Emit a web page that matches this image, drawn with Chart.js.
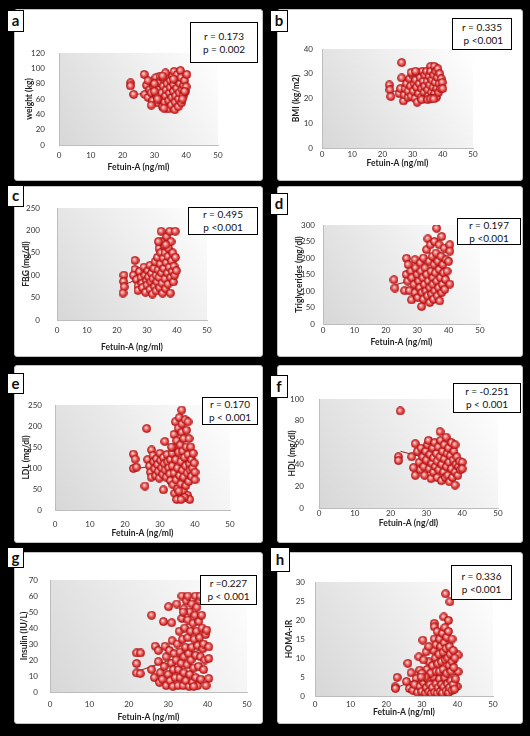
<!DOCTYPE html>
<html>
<head>
<meta charset="utf-8">
<script src="https://cdn.jsdelivr.net/npm/chart.js@4.4.0/dist/chart.umd.min.js"></script>
<style>
html, body { margin: 0; padding: 0; background: #000; }
body { width: 530px; height: 736px; position: relative; overflow: hidden; font-family: Lato, "Open Sans", sans-serif; }
.frame { position: absolute; background: #fff; border: 1px solid #c4c4c4; border-radius: 3px; box-sizing: border-box; }
canvas { position: absolute; }
.letter { position: absolute; background: #fff; border: 1px solid #000; box-sizing: border-box; font-weight: bold; font-size: 15px; text-align: center; color: #111; }
.stat { position: absolute; background: #fff; border: 1.5px solid #000; box-sizing: border-box; font-size: 10px; display: flex; flex-direction: column; justify-content: center; align-items: center; line-height: 13px; color: #111; white-space: pre; }
</style>
</head>
<body>
<script>
// panel labels, axis titles, axis ranges and stats
const panelIds = ['a', 'b', 'c', 'd', 'e', 'f', 'g', 'h'];
const yTitles = ['weight (kg)', 'BMI (kg/m2)', 'FBG (mg/dl)', 'Triglycerides (mg/dl)', 'LDL (mg/dl)', 'HDL (mg/dl)', 'Insulin (IU/L)', 'HOMA-IR'];
const xTitles = ['Fetuin-A (ng/ml)', 'Fetuin-A (ng/ml)', 'Fetuin-A (ng/ml)', 'Fetuin-A (ng/ml)', 'Fetuin-A (ng/ml)', 'Fetuin-A (ng/dl)', 'Fetuin-A (ng/ml)', 'Fetuin-A (ng/ml)'];
const yMax = [120, 40, 250, 300, 250, 100, 70, 30];
const yStep = [20, 5, 50, 50, 50, 10, 10, 5];
const xMax = 50, xStep = 10;
const rTexts = ['r = 0.173', 'r = 0.335', 'r = 0.495', 'r = 0.197', 'r = 0.170', 'r = -0.251', 'r =0.227', 'r = 0.336'];
const pTexts = ['p = 0.002', ' p <0.001', 'p <0.001', 'p <0.001', 'p < 0.001', 'p < 0.001', 'p < 0.001', 'p <0.001'];

// [fetuin-A, value]
const weightPts = [[22.5,81],[22.5,77],[23.5,66],[26.8,92],[27.5,78],[27,66],[28,62],[28.5,72],[28,84],[29,68],[29.5,58],[29.8,77],[30.5,88],[30.8,64],[31,55],[31.2,72],[31.5,82],[31.8,90],[32,60],[32.3,68],[32.5,50],[32.8,77],[33,86],[33.2,56],[33.5,64],[33.7,72],[34,90],[34,80],[34.3,47],[34.5,58],[34.7,68],[35,75],[35,84],[35.3,52],[35.5,62],[35.7,90],[36,70],[36,79],[36.2,96],[36.4,46],[36.5,56],[36.7,64],[37,85],[37,74],[37.2,92],[37.5,50],[37.6,60],[37.8,68],[38,80],[38.2,97],[38.4,88],[38.5,55],[38.7,72],[39,64],[39.2,78],[39.5,84],[39.8,70],[40.2,92],[40,76],[33.5,94],[30,80],[29,52],[32.6,90],[30,70],[31,60],[33,48],[36,86],[38.8,60],[39.5,70]];
const bmiPts = [[22.3,25.5],[22.5,23.5],[22.8,20.8],[26.4,34.5],[26.4,28.3],[25.5,22],[26,24],[27,19],[27.2,21.5],[27.5,24],[28,26],[28.5,20.5],[28.5,23],[29,28],[29.3,25],[29.5,21],[30,29.5],[30.2,23],[30.5,26],[30.8,20],[31,27.5],[31.3,24.5],[31.5,18.5],[31.8,30],[32,22],[32.2,26],[32.5,28.5],[32.8,20.5],[33,24],[33.2,31],[33.5,27],[33.8,22.5],[34,29.5],[34,25],[34.3,20],[34.6,31],[34.8,27],[35,23.5],[35.2,21],[35.5,29],[35.7,25.5],[36,33],[36,31],[36.2,22.5],[36.4,27.5],[36.6,20.5],[36.8,24.5],[37,29.5],[37.2,33],[37.3,22],[37.5,26.5],[37.7,31],[37.9,20.5],[38,24],[38.2,28.5],[38.4,32],[38.6,22.5],[38.8,26],[39,30],[39.3,24],[39.5,28],[39.8,26.5],[40,24],[29.5,30.5],[31,31],[33,19.5],[35,19.5],[36,19.8],[37,19.8]];
const fbgPts = [[22.3,100],[22.2,86],[22.4,74],[22,60],[26,133],[26,113],[25.5,100],[26.5,90],[27,76],[27,66],[27.5,108],[28,95],[28.3,82],[28.5,72],[29,118],[29.3,100],[29.5,62],[29.8,88],[30,78],[30.3,110],[30.5,96],[31,68],[31,122],[31.3,85],[31.5,104],[31.8,58],[32,92],[32.3,115],[32.5,75],[32.7,130],[33,100],[33,65],[33.3,85],[33.5,140],[33.7,112],[34,160],[34,95],[34.2,72],[34.4,125],[34.6,150],[34.7,198],[34.8,105],[35,82],[35,175],[35.2,60],[35.4,138],[35.6,115],[35.8,165],[36,92],[36,150],[36.2,70],[36.4,128],[36.6,186],[36.8,105],[37,142],[37,80],[37.2,160],[37.4,118],[37.6,198],[37.8,60],[37.9,95],[38,175],[38.2,132],[38.4,108],[38.6,150],[38.8,85],[39,120],[39.2,100],[39.4,198],[39.5,140],[39.8,110],[33.8,175],[36.3,168]];
const tgPts = [[22.6,134],[22.9,109],[26,101],[27.5,101],[26.6,199],[27.1,180],[29.3,195],[26.5,150],[27,130],[28,160],[28.3,140],[28.2,73],[29,120],[29.3,95],[29.5,170],[30,150],[30.2,80],[30.5,130],[30.8,110],[31,185],[31.2,160],[31.4,53],[31.5,95],[31.8,140],[32,75],[32,200],[32.3,120],[32.5,170],[32.8,100],[33,150],[33,225],[33.3,85],[33.4,258],[33.5,130],[33.8,190],[34,110],[34,65],[34.2,240],[34.4,160],[34.6,90],[34.8,205],[35,140],[35,120],[35.2,75],[35.4,180],[35.5,250],[35.6,100],[35.8,155],[36,215],[36.2,290],[36.2,130],[36.4,85],[36.6,190],[36.8,110],[37,165],[37,240],[37.2,70],[37.4,140],[37.6,205],[37.8,265],[37.8,95],[38,120],[38.2,180],[38.4,155],[38.6,230],[38.8,105],[39,135],[39.2,195],[39.5,160],[40.4,240],[40.4,221],[40.4,121],[40,190]];
const ldlPts = [[22.4,133],[22.9,121],[22.4,99],[23.3,102],[25.7,57],[26.2,194],[27.6,143],[31.4,163],[31,48],[36.2,238],[26.5,120],[27,105],[27.3,90],[27.5,78],[28,130],[28.2,115],[28.5,98],[28.8,82],[29,122],[29.3,108],[29.5,92],[29.8,76],[30,135],[30.2,118],[30.5,100],[30.8,85],[31,125],[31.2,110],[31.5,95],[31.8,78],[32,132],[32.2,115],[32.5,100],[32.8,86],[33,120],[33,70],[33.5,135],[33.5,105],[33.7,60],[34,180],[34,150],[34,88],[34.2,40],[34.4,210],[34.5,120],[34.6,72],[34.8,165],[35,100],[35,50],[35.2,195],[35.3,138],[35.5,220],[35.6,82],[35.7,30],[35.8,155],[36,115],[36,62],[36.2,185],[36.3,205],[36.4,95],[36.5,140],[36.6,45],[36.8,170],[36.8,78],[37,125],[37.2,215],[37.3,105],[37.4,58],[37.5,150],[37.6,190],[37.8,88],[37.9,35],[38,210],[38,132],[38.2,68],[38.3,170],[38.4,110],[38.5,25],[38.6,95],[38.8,150],[39,80],[39,120],[39.3,100],[39.5,135],[39.8,112],[40,90],[40,72],[33.3,150],[34.8,25],[37,30],[36,25],[35.4,45]];
const hdlPts = [[22.7,89],[22.2,47],[22.2,43.5],[25.9,47],[26.9,59],[26.4,37],[26.9,30],[27.5,52],[28,42],[28.3,35],[28.5,55],[29,47],[29.3,38],[29.5,30],[29.8,52],[30,44],[30.3,58],[30.6,62],[30.8,36],[31,49],[31.3,27],[31.5,41],[31.8,55],[32,33],[32,46],[32.3,60],[32.5,38],[32.8,50],[33,28],[33,43],[33.3,56],[33.5,35],[33.8,70],[33.8,47],[34,62],[34.2,25],[34.3,40],[34.5,52],[34.8,33],[35,58],[35,45],[35.3,28],[35.5,65],[35.6,38],[35.8,50],[36,30],[36.2,55],[36.3,42],[36.5,24],[36.7,48],[37,36],[37,60],[37.3,28],[37.5,44],[37.7,52],[38,21],[38,33],[38,58],[38.3,40],[38.5,47],[38.8,30],[39,38],[39.3,43],[39.5,35],[40,42],[40,36]];
const insulinPts = [[22,24.4],[23,24.4],[22,17.8],[22,11.9],[22.9,11.5],[25.8,48],[28.8,44],[30.1,53.3],[30.9,43.3],[26.7,28.6],[27.5,26],[29.2,28.6],[25.8,14],[26.5,9],[27.5,19],[27.8,6],[28,12],[28.5,8],[29,16],[29.5,4],[29.5,22],[30,11],[30.3,26],[30.5,7],[30.8,18],[31,32],[31.2,3.5],[31.3,14],[31.5,24],[31.8,9],[32,20],[32.2,55],[32.3,30],[32.5,4],[32.6,14],[32.8,38],[33,25],[33,9],[33.3,18],[33.5,60],[33.5,46],[33.6,33],[33.8,4],[34,52],[34,22],[34,12],[34.2,40],[34.4,28],[34.5,7],[34.6,57],[34.8,17],[35,45],[35,34],[35.2,24],[35.3,3.5],[35.5,50],[35.5,11],[35.7,38],[35.8,20],[36,28],[36,55],[36.2,6],[36.3,43],[36.5,15],[36.6,33],[36.8,48],[36.9,60],[37,23],[37,9],[37.2,38],[37.3,53],[37.5,29],[37.5,4],[37.7,16],[37.8,44],[38,57],[38.1,60],[38,34],[38.2,22],[38.3,8],[38.5,48],[38.6,40],[38.8,27],[39,14],[39,30],[39.3,20],[39.5,36],[39.8,38.7],[40.3,28.2],[40.3,20.9],[40.3,8.4],[39.6,4],[33.8,50],[35,60],[36.5,3.5]];
const homaPts = [[22.5,2.4],[22.6,2],[23.1,4.9],[25.7,3.8],[26.1,8.6],[27,6.1],[28.4,4.6],[29.4,6.8],[29.2,10.3],[30.3,14.7],[31.2,11.6],[33.5,19.1],[33.5,18.2],[36.7,26.9],[37.9,24.8],[36.2,20.8],[37.5,19.9],[40.2,10.8],[40.2,6.4],[39.9,2.5],[26.5,2],[27.5,1.5],[28,3],[28.8,1],[29.5,2.5],[30,1.2],[30.5,3.5],[31,0.8],[31.3,2.2],[31.8,4.2],[32,1.2],[32.3,3],[32.7,0.7],[33,2.2],[33.3,5],[33.6,1],[34,3.2],[34.3,0.8],[34.6,2.2],[35,4.5],[35.2,1.2],[35.5,3],[35.8,0.8],[36.2,2.4],[36.5,4.8],[36.8,1.3],[37.2,3.2],[37.5,0.9],[37.8,2.2],[38.2,4],[38.5,1.5],[38.8,3],[39.2,1.8],[39.5,4.5],[31.5,7],[32,9],[32.5,6],[33,8],[33.3,12],[33.5,15],[33.8,10],[34,6.5],[34,13.5],[34.3,17],[34.5,8.5],[34.8,11],[35,15],[35,6.5],[35.3,13],[35.5,9],[35.8,16.5],[36,11.5],[36,7],[36.3,14],[36.5,18],[36.6,9.5],[36.8,12.5],[37,6],[37,15.5],[37.3,10],[37.5,17],[37.7,8],[37.8,13],[38,11],[38.2,6.5],[38.5,9],[38.5,15],[38.8,12],[39,7.5],[39.3,10],[31,5],[30,6],[32,13],[30.5,9.5],[29.8,5]];

// linear trend end points
const weightTrend = [[22.5, 65], [40, 75]];
const bmiTrend = [[22.3, 22.5], [40, 27]];
const fbgTrend = [[22.3, 78], [40, 130]];
const tgTrend = [[22.6, 118], [40, 160]];
const ldlTrend = [[22.4, 98], [40, 118]];
const hdlTrend = [[22.8, 52], [40, 37]];
const insulinTrend = [[22.3, 13], [40, 28]];
const homaTrend = [[22.5, 2], [40, 9]];

const seriesPts = [weightPts, bmiPts, fbgPts, tgPts, ldlPts, hdlPts, insulinPts, homaPts];
const trends = [weightTrend, bmiTrend, fbgTrend, tgTrend, ldlTrend, hdlTrend, insulinTrend, homaTrend];

// page geometry: frame [l,t,r,b], plot [x0 px, x50 px, top px, zero px]
const layout = [
    { frame: [14, 9, 263, 181], plot: [59, 218, 53, 145], yPad: 14, xPad: 6, yTitlePad: 10.6, xTitlePad: 8.6, letter: [7, 10, 17, 22], stat: [190, 22, 68, 41] },
    { frame: [277, 9, 523, 181], plot: [322, 473, 49, 148], yPad: 9, xPad: 2, yTitlePad: 14.6, xTitlePad: 12.6, letter: [270, 10, 18, 22], stat: [452, 18, 60, 32] },
    { frame: [14, 186, 263, 357], plot: [57, 207, 208, 320], yPad: 17, xPad: 6, yTitlePad: 7.6, xTitlePad: 4.6, letter: [7, 185, 17, 22], stat: [188, 207, 70, 28] },
    { frame: [277, 186, 523, 357], plot: [323, 480, 225, 324], yPad: 8, xPad: 2, yTitlePad: 17.6, xTitlePad: 9.6, letter: [270, 193, 18, 22], stat: [457, 218, 64, 27] },
    { frame: [14, 365, 263, 543], plot: [55, 230, 405, 510], yPad: 13, xPad: 10, yTitlePad: 7.6, xTitlePad: 4.6, letter: [7, 373, 17, 21], stat: [202, 397, 56, 28] },
    { frame: [277, 365, 523, 543], plot: [319, 498, 399, 508], yPad: 15, xPad: 1, yTitlePad: 10.6, xTitlePad: 14.6, letter: [270, 375, 18, 23], stat: [453, 383, 68, 30] },
    { frame: [14, 552, 263, 724], plot: [50, 247, 580, 692], yPad: 12, xPad: 8, yTitlePad: 5.6, xTitlePad: 1.6, letter: [7, 547, 17, 21], stat: [200, 575, 57, 30] },
    { frame: [277, 552, 523, 724], plot: [315, 493, 582, 696], yPad: 10, xPad: 4, yTitlePad: 7.6, xTitlePad: 6.6, letter: [270, 547, 20, 25], stat: [451, 565, 61, 35] }
];

// glossy red marker
function makeDot() {
    const c = document.createElement('canvas');
    c.width = 9;
    c.height = 9;
    const g = c.getContext('2d');
    const grd = g.createRadialGradient(3.6, 3.4, 0.2, 4.5, 4.5, 4.4);
    grd.addColorStop(0, '#ffecec');
    grd.addColorStop(0.3, '#f58a8a');
    grd.addColorStop(0.7, '#e23636');
    grd.addColorStop(1, '#b01818');
    g.fillStyle = grd;
    g.beginPath();
    g.arc(4.5, 4.5, 4, 0, Math.PI * 2);
    g.fill();
    g.strokeStyle = '#a51414';
    g.lineWidth = 0.8;
    g.stroke();
    return c;
}
const dot = makeDot();

// grey gradient behind the plot area
const plotBg = {
    id: 'plotBg',
    beforeDraw(chart) {
        const { ctx, chartArea: a } = chart;
        const grd = ctx.createLinearGradient(a.right, a.top, a.left, a.bottom);
        grd.addColorStop(0, '#ffffff');
        grd.addColorStop(1, '#d7d7d7');
        ctx.save();
        ctx.fillStyle = grd;
        ctx.fillRect(a.left, a.top, a.right - a.left, a.bottom - a.top);
        ctx.restore();
    }
};

function place(el, x, y, w, h) {
    el.style.left = x + 'px';
    el.style.top = y + 'px';
    el.style.width = w + 'px';
    el.style.height = h + 'px';
}

panelIds.forEach(function (id, i) {
    const L = layout[i];
    const [fl, ft, fr, fb] = L.frame;
    const [x0, x50, yt, y0] = L.plot;

    const frame = document.createElement('div');
    frame.className = 'frame';
    place(frame, fl, ft, fr - fl, fb - ft);
    document.body.appendChild(frame);

    const cv = document.createElement('canvas');
    cv.width = fr - fl;
    cv.height = fb - ft;
    cv.style.left = fl + 'px';
    cv.style.top = ft + 'px';
    document.body.appendChild(cv);

    const tickFont = { family: 'Lato', size: 8 };
    const titleFont = { family: 'Lato', size: 8.5, weight: 'bold' };

    new Chart(cv, {
        type: 'scatter',
        data: {
            datasets: [
                {
                    data: seriesPts[i].map(p => ({ x: p[0], y: p[1] })),
                    pointStyle: dot,
                    pointRadius: 4,
                    order: 1
                },
                {
                    type: 'line',
                    data: trends[i].map(p => ({ x: p[0], y: p[1] })),
                    borderColor: '#9e1b1b',
                    borderWidth: 1,
                    pointRadius: 0,
                    showLine: true,
                    order: 2
                }
            ]
        },
        options: {
            responsive: false,
            animation: false,
            devicePixelRatio: 1,
            layout: { padding: { top: yt - ft, right: fr - x50, left: 0, bottom: 0 } },
            plugins: { legend: { display: false }, tooltip: { enabled: false } },
            scales: {
                x: {
                    type: 'linear', min: 0, max: xMax,
                    ticks: { stepSize: xStep, padding: L.xPad, color: '#333', font: tickFont, maxRotation: 0 },
                    grid: { display: false, drawTicks: false },
                    border: { color: '#bdbdbd' },
                    title: { display: true, text: xTitles[i], color: '#222', font: titleFont, padding: { top: 0, bottom: L.xTitlePad } },
                    afterFit(s) { s.height = fb - y0; }
                },
                y: {
                    type: 'linear', min: 0, max: yMax[i],
                    ticks: { stepSize: yStep[i], padding: L.yPad, color: '#333', font: tickFont },
                    grid: { display: false, drawTicks: false },
                    border: { color: '#bdbdbd' },
                    title: { display: true, text: yTitles[i], color: '#222', font: titleFont, padding: { top: L.yTitlePad, bottom: 0 } },
                    afterFit(s) { s.width = x0 - fl; }
                }
            }
        },
        plugins: [plotBg]
    });

    const letter = document.createElement('div');
    letter.className = 'letter';
    place(letter, L.letter[0], L.letter[1], L.letter[2], L.letter[3]);
    letter.style.lineHeight = (L.letter[3] - 3) + 'px';
    letter.textContent = id;
    document.body.appendChild(letter);

    const stat = document.createElement('div');
    stat.className = 'stat';
    place(stat, L.stat[0], L.stat[1], L.stat[2], L.stat[3]);
    const r = document.createElement('div');
    r.textContent = rTexts[i];
    const p = document.createElement('div');
    p.textContent = pTexts[i];
    stat.appendChild(r);
    stat.appendChild(p);
    document.body.appendChild(stat);
});
</script>
</body>
</html>
